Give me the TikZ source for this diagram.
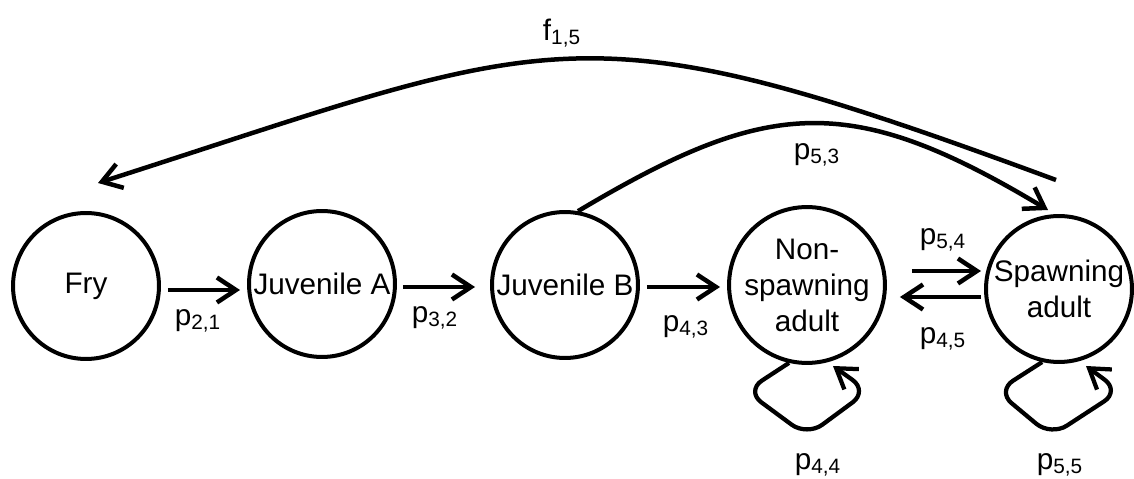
\documentclass[tikz,border=0pt]{standalone}
\usepackage{fontspec}
\setmainfont{Liberation Sans}
\usetikzlibrary{arrows.meta}
\begin{document}
\begin{tikzpicture}[x=0.02cm,y=-0.02cm,
  state/.style={circle,draw,line width=0.08cm,minimum size=2.92cm,inner sep=0pt,align=center,font=\fontsize{16.9}{20.5}\selectfont},
  arr/.style={line width=0.09cm,-{Straight Barb[length=0.38cm,width=0.5cm]}},
  looparr/.style={line width=0.085cm,rounded corners=0.38cm,-{Straight Barb[length=0.38cm,width=0.5cm]}},
  lbl/.style={font=\fontsize{16.9}{20}\selectfont,inner sep=0pt}]
\useasboundingbox (0,0) rectangle (1134,479);
% states
\node[state] (fry) at (86,286) {Fry};
\node[state] (ja) at (322,284) {Juvenile A};
\node[state] (jb) at (565,285) {Juvenile B};
\node[state] (ns) at (807,285) {Non-\\spawning\\adult};
\node[state] (sp) at (1059,289) {Spawning\\adult};
% forward transitions
\draw[arr] ([shift={(7,4)}]fry.east) -- ([shift={(-7,6)}]ja.west);
\draw[arr] ([shift={(6,3)}]ja.east) -- ([shift={(-15,2)}]jb.west);
\draw[arr] ([shift={(7,2)}]jb.east) -- ([shift={(-7,2)}]ns.west);
\draw[arr] ([shift={(25,-14)}]ns.east) -- ([shift={(-3,-18)}]sp.west);
\draw[arr] ([shift={(-3,8)}]sp.west) -- ([shift={(13,12)}]ns.east);
% self loops
\draw[looparr] (ns.257) -- (746,391) -- (807,436) -- (868,391) -- (833,366);
\draw[looparr] (sp.257) -- (997,391) -- (1051,436) -- (1120,391) -- (1086,366);
% long arcs
\coordinate (f15s) at (1056,180);
\coordinate (f15e) at (98,183);
\coordinate (p53e) at (1048,210);
\draw[arr] (f15s) .. controls (575,2) and (563,34) .. (f15e);
\draw[arr] (jb.80) .. controls (768,98) and (850,91) .. (p53e);
% labels
\node[lbl] (l15) at (562,33) {f\textsubscript{1,5}};
\node[lbl] (l53) at (817,155) {p\textsubscript{5,3}};
\node[lbl] (l21) at (198,321) {p\textsubscript{2,1}};
\node[lbl] (l32) at (435,318) {p\textsubscript{3,2}};
\node[lbl] (l43) at (686,327) {p\textsubscript{4,3}};
\node[lbl] (l54) at (943,240) {p\textsubscript{5,4}};
\node[lbl] (l45) at (943,339) {p\textsubscript{4,5}};
\node[lbl] (l44) at (818,465) {p\textsubscript{4,4}};
\node[lbl] (l55) at (1060,465) {p\textsubscript{5,5}};
\end{tikzpicture}
\end{document}
